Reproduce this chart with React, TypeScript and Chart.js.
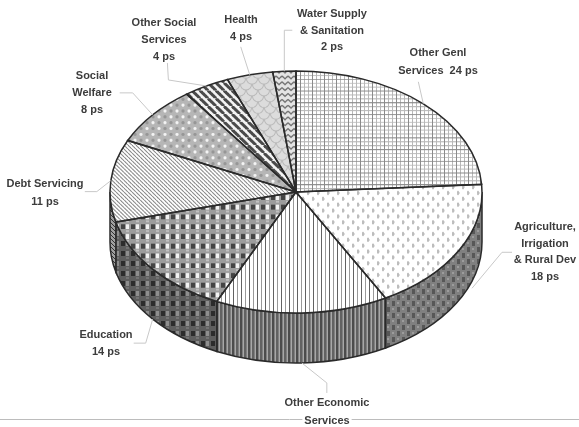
import React, { useEffect, useRef } from "react";
import { Chart, registerables } from "chart.js";

Chart.register(...registerables);

const categories = [
  "Other Genl Services",
  "Agriculture, Irrigation & Rural Dev",
  "Other Economic Services",
  "Education",
  "Debt Servicing",
  "Social Welfare",
  "Other Social Services",
  "Health",
  "Water Supply & Sanitation",
];
const values = [24, 18, 15, 14, 11, 8, 4, 4, 2];
const labelLines = [
  ["Other Genl", "Services  24 ps"],
  ["Agriculture,", "Irrigation", "& Rural Dev", "18 ps"],
  ["Other Economic", "Services"],
  ["Education", "14 ps"],
  ["Debt Servicing", "11 ps"],
  ["Social", "Welfare", "8 ps"],
  ["Other Social", "Services", "4 ps"],
  ["Health", "4 ps"],
  ["Water Supply", "& Sanitation", "2 ps"],
];

const W = 579;
const H = 427;
const SQUASH = 121 / 186;
const DEPTH = 50;
const FONT = "bold 11px 'Liberation Sans', Arial, sans-serif";
const TEXT = "#3c3c3c";
const LEADER = "#c8c8c8";
const EDGE = "#2a2a2a";

// Per-slice label layout: text centre x, first line centre y, and the leader's bends
// measured from its rim anchor. onWall anchors on the wall's lower rim; detached
// starts the drawn leader at the first bend.
const layout = [
  { x: 438, y: 53, step: 18, onWall: false, detached: false, bends: [[-5, -22]] },
  { x: 545, y: 227, step: 16.7, onWall: true, detached: true, bends: [[13, -12], [43, -48], [53, -48]] },
  { x: 327, y: 403, step: 18, onWall: true, detached: false, bends: [[25, 20], [25, 30]] },
  { x: 106, y: 335, step: 17, onWall: true, detached: false, bends: [[-7, 24], [-19, 24]] },
  { x: 45, y: 184, step: 18, onWall: false, detached: false, bends: [[-14, 11], [-26, 11]] },
  { x: 92, y: 76, step: 17, onWall: false, detached: false, bends: [[-20, -22], [-33, -22]] },
  { x: 164, y: 23, step: 17, onWall: false, detached: false, bends: [[-38, -6], [-39, -23]] },
  { x: 241, y: 20, step: 17, onWall: false, detached: false, bends: [[-9, -28]] },
  { x: 332, y: 14, step: 16.5, onWall: false, detached: false, bends: [[0, -41], [8, -41]] },
];

type Painter = (g: CanvasRenderingContext2D) => void;

function tile(w: number, h: number, paint: Painter): HTMLCanvasElement {
  const c = document.createElement("canvas");
  c.width = w;
  c.height = h;
  paint(c.getContext("2d") as CanvasRenderingContext2D);
  return c;
}

// Tile for the top face: stretched so that the squashed pie shows it at its true shape.
function topTile(w: number, h: number, paint: Painter): HTMLCanvasElement {
  const c = document.createElement("canvas");
  const stretched = Math.round(h / SQUASH);
  c.width = w;
  c.height = stretched;
  const g = c.getContext("2d") as CanvasRenderingContext2D;
  g.scale(1, stretched / h);
  paint(g);
  return c;
}

function bg(g: CanvasRenderingContext2D, color: string) {
  g.fillStyle = color;
  g.fillRect(0, 0, g.canvas.width, g.canvas.height);
}

function rects(g: CanvasRenderingContext2D, color: string, list: number[][]) {
  g.fillStyle = color;
  list.forEach(([x, y, w, h]) => g.fillRect(x, y, w, h));
}

function diagonal(g: CanvasRenderingContext2D, n: number, color: string, lw: number) {
  g.strokeStyle = color;
  g.lineWidth = lw;
  for (const off of [-n, 0, n]) {
    g.beginPath();
    g.moveTo(off, 0);
    g.lineTo(off + n, n);
    g.stroke();
  }
}

function buildTop(): HTMLCanvasElement[] {
  return [
    topTile(12, 12, (g) => {
      bg(g, "#ffffff");
      rects(g, "#b8b8b8", [[4, 0, 1, 12], [8, 0, 1, 12], [0, 4, 12, 1], [0, 8, 12, 1]]);
      rects(g, "#8a8a8a", [[0, 0, 1, 12], [0, 0, 12, 1]]);
    }),
    topTile(10, 12, (g) => {
      bg(g, "#ffffff");
      rects(g, "#bdbdbd", [[2, 1, 2, 4], [7, 7, 2, 4]]);
      rects(g, "#dedede", [[4, 2, 1, 2], [9, 8, 1, 2]]);
    }),
    topTile(8, 8, (g) => {
      bg(g, "#ffffff");
      rects(g, "#626262", [[1, 0, 1, 8]]);
      rects(g, "#999999", [[5, 0, 1, 8]]);
    }),
    topTile(10, 10, (g) => {
      bg(g, "#9c9c9c");
      rects(g, "#444444", [[1, 1, 4, 5]]);
      rects(g, "#f2f2f2", [[6, 1, 3, 5]]);
      rects(g, "#c0c0c0", [[6, 7, 3, 2]]);
    }),
    topTile(4, 4, (g) => {
      bg(g, "#ffffff");
      diagonal(g, 4, "#808080", 1);
    }),
    topTile(12, 12, (g) => {
      bg(g, "#b6b6b6");
      g.fillStyle = "#f4f4f4";
      [[3, 3], [9, 9]].forEach(([x, y]) => {
        g.beginPath();
        g.arc(x, y, 1.6, 0, Math.PI * 2);
        g.fill();
      });
      g.fillStyle = "#969696";
      [[9, 3], [3, 9]].forEach(([x, y]) => {
        g.beginPath();
        g.arc(x, y, 1.6, 0, Math.PI * 2);
        g.fill();
      });
    }),
    topTile(8, 8, (g) => {
      bg(g, "#f4f4f4");
      diagonal(g, 8, "#4a4a4a", 3);
    }),
    topTile(12, 12, (g) => {
      bg(g, "#dcdcdc");
      g.strokeStyle = "#b8b8b8";
      g.lineWidth = 1;
      [[0, 0], [12, 0], [6, 6], [0, 12], [12, 12]].forEach(([x, y]) => {
        g.beginPath();
        g.arc(x, y, 5.5, 0, Math.PI);
        g.stroke();
      });
    }),
    topTile(6, 6, (g) => {
      bg(g, "#e4e4e4");
      g.strokeStyle = "#707070";
      g.lineWidth = 1.3;
      [0, 6].forEach((y) => {
        g.beginPath();
        g.moveTo(0, y - 3);
        g.lineTo(3, y);
        g.lineTo(6, y - 3);
        g.stroke();
      });
    }),
  ];
}

function buildWall(): (HTMLCanvasElement | null)[] {
  return [
    null,
    tile(10, 12, (g) => {
      bg(g, "#808080");
      rects(g, "#575757", [[2, 1, 3, 5], [7, 7, 3, 5]]);
      rects(g, "#9c9c9c", [[7, 2, 2, 2], [2, 8, 2, 2]]);
    }),
    tile(8, 8, (g) => {
      bg(g, "#808080");
      rects(g, "#4c4c4c", [[0, 0, 2, 8]]);
      rects(g, "#626262", [[4, 0, 2, 8]]);
      rects(g, "#a8a8a8", [[3, 0, 1, 8], [7, 0, 1, 8]]);
    }),
    tile(10, 10, (g) => {
      bg(g, "#5e5e5e");
      rects(g, "#2c2c2c", [[1, 1, 4, 5]]);
      rects(g, "#8e8e8e", [[6, 1, 3, 5]]);
      rects(g, "#747474", [[6, 7, 3, 2]]);
    }),
    tile(4, 4, (g) => {
      bg(g, "#a0a0a0");
      diagonal(g, 4, "#333333", 1);
    }),
    null,
    null,
    null,
    null,
  ];
}

const pseudo3d = {
  id: "pseudo3d",
  beforeDatasetsDraw(chart: any) {
    const ctx: CanvasRenderingContext2D = chart.ctx;
    const arcs = chart.getDatasetMeta(0).data;
    const { x: cx, y: cy, outerRadius: rx } = arcs[0];
    const ry = rx * SQUASH;
    const wall = buildWall();
    // side wall: only the front half of the rim (canvas angles 0..PI) shows
    arcs.forEach((arc: any, i: number) => {
      const s = Math.max(arc.startAngle, 0);
      const e = Math.min(arc.endAngle, Math.PI);
      if (e <= s) return;
      const t = wall[i];
      ctx.save();
      ctx.beginPath();
      ctx.ellipse(cx, cy, rx, ry, 0, s, e);
      ctx.ellipse(cx, cy + DEPTH, rx, ry, 0, e, s, true);
      ctx.closePath();
      ctx.fillStyle = t ? (ctx.createPattern(t, "repeat") as CanvasPattern) : "#888888";
      ctx.fill();
      ctx.strokeStyle = EDGE;
      ctx.lineWidth = 1.5;
      ctx.stroke();
      ctx.restore();
    });
    ctx.save();
    ctx.translate(cx, cy);
    ctx.scale(1, SQUASH);
    ctx.translate(-cx, -cy);
  },
  afterDatasetsDraw(chart: any) {
    const ctx: CanvasRenderingContext2D = chart.ctx;
    ctx.restore();
    const arcs = chart.getDatasetMeta(0).data;
    const { x: cx, y: cy, outerRadius: rx } = arcs[0];
    const ry = rx * SQUASH;

    ctx.save();
    // slice outlines with an even pen
    arcs.forEach((arc: any) => {
      ctx.beginPath();
      ctx.moveTo(cx, cy);
      ctx.ellipse(cx, cy, rx, ry, 0, arc.startAngle, arc.endAngle);
      ctx.closePath();
      ctx.strokeStyle = EDGE;
      ctx.lineWidth = 1.5;
      ctx.stroke();
    });

    // page rule behind the clipped last label
    ctx.strokeStyle = "#bcbcbc";
    ctx.lineWidth = 1;
    ctx.beginPath();
    ctx.moveTo(0, 419.5);
    ctx.lineTo(W, 419.5);
    ctx.stroke();

    // leaders
    arcs.forEach((arc: any, i: number) => {
      const mid = (arc.startAngle + arc.endAngle) / 2;
      const l = layout[i];
      const ax = cx + rx * Math.cos(mid);
      const ay = cy + ry * Math.sin(mid) + (l.onWall ? DEPTH : 0);
      ctx.beginPath();
      if (l.detached) {
        ctx.moveTo(ax + l.bends[0][0], ay + l.bends[0][1]);
      } else {
        ctx.moveTo(ax, ay);
      }
      l.bends.forEach(([dx, dy]) => ctx.lineTo(ax + dx, ay + dy));
      ctx.strokeStyle = LEADER;
      ctx.lineWidth = 1;
      ctx.stroke();
    });

    // labels
    ctx.font = FONT;
    ctx.textAlign = "center";
    ctx.textBaseline = "middle";
    labelLines.forEach((lines, i) => {
      const l = layout[i];
      lines.forEach((line, j) => {
        const y = l.y + j * l.step;
        if (y > 415) {
          const w = ctx.measureText(line).width + 4;
          ctx.fillStyle = "#ffffff";
          ctx.fillRect(l.x - w / 2, y - 4, w, 8);
        }
        ctx.fillStyle = TEXT;
        ctx.fillText(line, l.x, y);
      });
    });
    ctx.restore();
  },
};

export default function App() {
  const ref = useRef<HTMLCanvasElement>(null);

  useEffect(() => {
    const canvas = ref.current as HTMLCanvasElement;
    const ctx = canvas.getContext("2d") as CanvasRenderingContext2D;
    const fills = buildTop().map((t) => ctx.createPattern(t, "repeat") as CanvasPattern);
    const chart = new Chart(canvas, {
      type: "pie",
      data: {
        labels: categories,
        datasets: [
          {
            data: values,
            backgroundColor: fills,
            borderWidth: 0,
            clip: false,
          } as any,
        ],
      },
      options: {
        responsive: false,
        animation: false,
        devicePixelRatio: 1,
        layout: { padding: { left: 110, right: 97, top: 6, bottom: 49 } },
        plugins: { legend: { display: false }, tooltip: { enabled: false }, title: { display: false } },
      },
      plugins: [pseudo3d],
    } as any);
    return () => chart.destroy();
  }, []);

  return (
    <div style={{ position: "absolute", left: 0, top: 0, width: W, height: H, background: "#ffffff", overflow: "hidden" }}>
      <canvas ref={ref} width={W} height={H} style={{ display: "block", filter: "blur(0.4px)" }} />
    </div>
  );
}
